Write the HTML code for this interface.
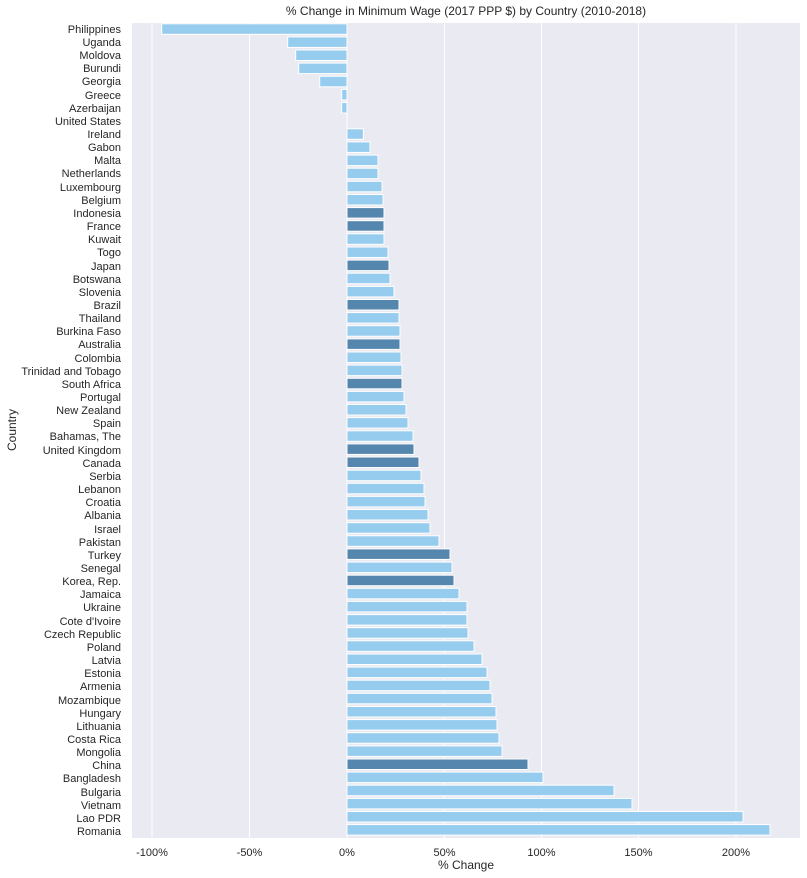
<!DOCTYPE html>
<html><head><meta charset="utf-8"><style>
body{margin:0;background:#fff;}
svg{display:block;font-family:"Liberation Sans",sans-serif;}
.l{fill:#96CCEE;stroke:#fff;stroke-width:1}
.d{fill:#5586AE;stroke:#fff;stroke-width:1}
.t{font-size:11px;fill:#262626;text-anchor:end}
.x{font-size:11px;fill:#262626;text-anchor:middle}
</style></head><body>
<svg width="807" height="878" viewBox="0 0 807 878">
<rect x="132" y="23" width="668" height="815" fill="#EAEAF2"/>
<g stroke="#fff" stroke-width="1">
<line x1="152" y1="23" x2="152" y2="838"/><line x1="249.5" y1="23" x2="249.5" y2="838"/>
<line x1="347" y1="23" x2="347" y2="838"/><line x1="444.5" y1="23" x2="444.5" y2="838"/>
<line x1="541.5" y1="23" x2="541.5" y2="838"/><line x1="638.5" y1="23" x2="638.5" y2="838"/>
<line x1="736" y1="23" x2="736" y2="838"/>
</g>
<text x="466" y="15" class="x" style="font-size:12px">% Change in Minimum Wage (2017 PPP $) by Country (2010-2018)</text>
<g id="bars"></g>
<g id="labels"></g>
<g class="x">
<text x="152" y="856">-100%</text><text x="249.5" y="856">-50%</text><text x="347" y="856">0%</text>
<text x="444.5" y="856">50%</text><text x="541.5" y="856">100%</text><text x="638.5" y="856">150%</text><text x="736" y="856">200%</text>
<text x="466" y="869" style="font-size:12px">% Change</text>
</g>
<text class="x" style="font-size:12px" transform="translate(16,430) rotate(-90)">Country</text>
<g class="t">
<text x="121" y="33">Philippines</text><text x="121" y="46">Uganda</text><text x="121" y="59">Moldova</text><text x="121" y="72">Burundi</text><text x="121" y="85">Georgia</text><text x="121" y="99">Greece</text><text x="121" y="112">Azerbaijan</text><text x="121" y="125">United States</text><text x="121" y="138">Ireland</text><text x="121" y="151">Gabon</text><text x="121" y="164">Malta</text><text x="121" y="177">Netherlands</text><text x="121" y="191">Luxembourg</text><text x="121" y="204">Belgium</text><text x="121" y="217">Indonesia</text><text x="121" y="230">France</text><text x="121" y="243">Kuwait</text><text x="121" y="256">Togo</text><text x="121" y="270">Japan</text><text x="121" y="283">Botswana</text><text x="121" y="296">Slovenia</text><text x="121" y="309">Brazil</text><text x="121" y="322">Thailand</text><text x="121" y="335">Burkina Faso</text><text x="121" y="348">Australia</text><text x="121" y="362">Colombia</text><text x="121" y="375">Trinidad and Tobago</text><text x="121" y="388">South Africa</text><text x="121" y="401">Portugal</text><text x="121" y="414">New Zealand</text><text x="121" y="427">Spain</text><text x="121" y="440">Bahamas, The</text><text x="121" y="454">United Kingdom</text><text x="121" y="467">Canada</text><text x="121" y="480">Serbia</text><text x="121" y="493">Lebanon</text><text x="121" y="506">Croatia</text><text x="121" y="519">Albania</text><text x="121" y="533">Israel</text><text x="121" y="546">Pakistan</text><text x="121" y="559">Turkey</text><text x="121" y="572">Senegal</text><text x="121" y="585">Korea, Rep.</text><text x="121" y="598">Jamaica</text><text x="121" y="611">Ukraine</text><text x="121" y="625">Cote d'Ivoire</text><text x="121" y="638">Czech Republic</text><text x="121" y="651">Poland</text><text x="121" y="664">Latvia</text><text x="121" y="677">Estonia</text><text x="121" y="690">Armenia</text><text x="121" y="704">Mozambique</text><text x="121" y="717">Hungary</text><text x="121" y="730">Lithuania</text><text x="121" y="743">Costa Rica</text><text x="121" y="756">Mongolia</text><text x="121" y="769">China</text><text x="121" y="782">Bangladesh</text><text x="121" y="796">Bulgaria</text><text x="121" y="809">Vietnam</text><text x="121" y="822">Lao PDR</text><text x="121" y="835">Romania</text>
</g>
<g>
<rect class="l" x="161.7" y="23.8" width="185.3" height="10.5"/>
<rect class="l" x="287.7" y="36.9" width="59.3" height="10.5"/>
<rect class="l" x="295.7" y="50.0" width="51.3" height="10.5"/>
<rect class="l" x="298.7" y="63.1" width="48.3" height="10.5"/>
<rect class="l" x="319.7" y="76.3" width="27.3" height="10.5"/>
<rect class="l" x="341.7" y="89.4" width="5.3" height="10.5"/>
<rect class="l" x="341.7" y="102.5" width="5.3" height="10.5"/>
<rect class="l" x="347" y="128.8" width="16.3" height="10.5"/>
<rect class="l" x="347" y="141.9" width="23" height="10.5"/>
<rect class="l" x="347" y="155.1" width="31" height="10.5"/>
<rect class="l" x="347" y="168.2" width="31" height="10.5"/>
<rect class="l" x="347" y="181.3" width="35" height="10.5"/>
<rect class="l" x="347" y="194.5" width="36" height="10.5"/>
<rect class="d" x="347" y="207.6" width="37" height="10.5"/>
<rect class="d" x="347" y="220.7" width="37" height="10.5"/>
<rect class="l" x="347" y="233.8" width="37" height="10.5"/>
<rect class="l" x="347" y="247.0" width="41" height="10.5"/>
<rect class="d" x="347" y="260.1" width="42" height="10.5"/>
<rect class="l" x="347" y="273.2" width="43" height="10.5"/>
<rect class="l" x="347" y="286.4" width="47" height="10.5"/>
<rect class="d" x="347" y="299.5" width="52" height="10.5"/>
<rect class="l" x="347" y="312.6" width="52" height="10.5"/>
<rect class="l" x="347" y="325.7" width="53" height="10.5"/>
<rect class="d" x="347" y="338.9" width="53" height="10.5"/>
<rect class="l" x="347" y="352.0" width="54" height="10.5"/>
<rect class="l" x="347" y="365.1" width="55" height="10.5"/>
<rect class="d" x="347" y="378.3" width="55" height="10.5"/>
<rect class="l" x="347" y="391.4" width="57" height="10.5"/>
<rect class="l" x="347" y="404.5" width="59" height="10.5"/>
<rect class="l" x="347" y="417.6" width="61" height="10.5"/>
<rect class="l" x="347" y="430.8" width="66" height="10.5"/>
<rect class="d" x="347" y="443.9" width="67" height="10.5"/>
<rect class="d" x="347" y="457.0" width="72" height="10.5"/>
<rect class="l" x="347" y="470.2" width="74" height="10.5"/>
<rect class="l" x="347" y="483.3" width="77" height="10.5"/>
<rect class="l" x="347" y="496.4" width="78" height="10.5"/>
<rect class="l" x="347" y="509.5" width="81" height="10.5"/>
<rect class="l" x="347" y="522.7" width="83" height="10.5"/>
<rect class="l" x="347" y="535.8" width="92" height="10.5"/>
<rect class="d" x="347" y="548.9" width="103" height="10.5"/>
<rect class="l" x="347" y="562.1" width="105" height="10.5"/>
<rect class="d" x="347" y="575.2" width="107" height="10.5"/>
<rect class="l" x="347" y="588.3" width="112" height="10.5"/>
<rect class="l" x="347" y="601.4" width="120" height="10.5"/>
<rect class="l" x="347" y="614.6" width="120" height="10.5"/>
<rect class="l" x="347" y="627.7" width="121" height="10.5"/>
<rect class="l" x="347" y="640.8" width="127" height="10.5"/>
<rect class="l" x="347" y="654.0" width="135" height="10.5"/>
<rect class="l" x="347" y="667.1" width="140" height="10.5"/>
<rect class="l" x="347" y="680.2" width="143" height="10.5"/>
<rect class="l" x="347" y="693.3" width="145" height="10.5"/>
<rect class="l" x="347" y="706.5" width="149" height="10.5"/>
<rect class="l" x="347" y="719.6" width="150" height="10.5"/>
<rect class="l" x="347" y="732.7" width="152" height="10.5"/>
<rect class="l" x="347" y="745.9" width="155" height="10.5"/>
<rect class="d" x="347" y="759.0" width="181" height="10.5"/>
<rect class="l" x="347" y="772.1" width="196" height="10.5"/>
<rect class="l" x="347" y="785.2" width="267" height="10.5"/>
<rect class="l" x="347" y="798.4" width="285" height="10.5"/>
<rect class="l" x="347" y="811.5" width="396" height="10.5"/>
<rect class="l" x="347" y="824.6" width="423" height="10.5"/>
</g>
</svg>
</body></html>
